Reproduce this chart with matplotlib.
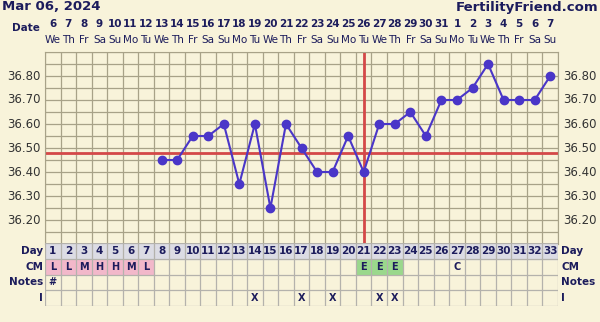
import numpy as np
import pandas as pd
import matplotlib
matplotlib.use('Agg')
import matplotlib.pyplot as plt
from matplotlib.transforms import blended_transform_factory

# cycle data, day 1 = Mar 06, 2024
days = list(range(1, 34))
dates = pd.date_range('2024-03-06', periods=33)
temps = [np.nan] * 7 + [36.45, 36.45, 36.55, 36.55, 36.60, 36.35, 36.60, 36.25,
                        36.60, 36.50, 36.40, 36.40, 36.55, 36.40, 36.60, 36.60,
                        36.65, 36.55, 36.70, 36.70, 36.75, 36.85, 36.70, 36.70,
                        36.70, 36.80]
coverline = 36.48
ovulation_day = 21
cm = {1: 'L', 2: 'L', 3: 'M', 4: 'H', 5: 'H', 6: 'M', 7: 'L',
      21: 'E', 22: 'E', 23: 'E', 27: 'C'}
notes = {1: '#'}
intercourse = [14, 17, 19, 22, 23]
ytick_vals = [36.20, 36.30, 36.40, 36.50, 36.60, 36.70, 36.80]

bg = '#f8f3da'
navy = '#1c1c5c'
gridc = '#a8a288'
blue = '#4a36c8'
red = '#d44848'

fig = plt.figure(figsize=(6, 3.22), dpi=100, facecolor=bg)
W, H = 600, 322
x0, x1 = 45, 558

# temperature chart
ax = fig.add_axes([x0 / W, 1 - 244 / H, (x1 - x0) / W, (244 - 52) / H])
ax.set_facecolor(bg)
ax.set_xlim(0.5, 33.5)
ax.set_ylim(36.10, 36.90)
for b in np.arange(0.5, 34, 1):
    ax.axvline(b, color=gridc, lw=0.9, zorder=1)
for t in np.arange(36.10, 36.91, 0.05):
    ax.axhline(t, color=gridc, lw=0.9, zorder=1)
ax.axhline(coverline, color=red, lw=2, zorder=2)
ax.axvline(ovulation_day, color=red, lw=2, zorder=2)
ax.plot(days, temps, color=blue, lw=1.5, marker='o', ms=6, zorder=3)
ax.set_xticks([])
ax.set_yticks([])
for s in ax.spines.values():
    s.set_color(gridc)

ylab = blended_transform_factory(fig.transFigure, ax.transData)
for v in ytick_vals:
    ax.text(41 / W, v, f'{v:.2f}', transform=ylab, ha='right', va='center',
            fontsize=8.5, color='#333333')
    ax.text(563 / W, v, f'{v:.2f}', transform=ylab, ha='left', va='center',
            fontsize=8.5, color='#333333')

# header
hdr = blended_transform_factory(ax.transData, fig.transFigure)
for d, dt in zip(days, dates):
    ax.text(d, 1 - 24 / H, str(dt.day), transform=hdr, ha='center', va='center',
            fontsize=7.5, fontweight='bold', color=navy)
    ax.text(d, 1 - 40 / H, dt.strftime('%a')[:2], transform=hdr, ha='center',
            va='center', fontsize=7.5, color=navy)
fig.text(26 / W, 1 - 28 / H, 'Date', ha='center', va='center', fontsize=7.5,
         fontweight='bold', color=navy)
fig.text(2 / W, 1 - 7 / H, 'Mar 06, 2024', ha='left', va='center', fontsize=9.5,
         fontweight='bold', color=navy)
fig.text(598 / W, 1 - 7 / H, 'FertilityFriend.com', ha='right', va='center',
         fontsize=9.5, fontweight='bold', color=navy)

# table
tb = fig.add_axes([x0 / W, 1 - 306 / H, (x1 - x0) / W, (306 - 243) / H])
tb.set_xlim(0.5, 33.5)
tb.set_ylim(4, 0)
tb.set_facecolor(bg)
tb.axhspan(0, 1, color='#dcdce4', zorder=0)
pink = [d for d in cm if cm[d] in 'LMH']
green = [d for d in cm if cm[d] == 'E']
tb.bar(pink, 1, bottom=1, width=1, color='#f2b8ca', zorder=0)
tb.bar(green, 1, bottom=1, width=1, color='#9ad88c', zorder=0)
for b in np.arange(0.5, 34, 1):
    tb.axvline(b, color='#b4b2ac', lw=0.9, zorder=1)
for r in range(5):
    tb.axhline(r, color='#b4b2ac', lw=0.9, zorder=1)
tb.set_xticks([])
tb.set_yticks([])
for s in tb.spines.values():
    s.set_visible(False)

for d in days:
    tb.text(d, 0.5, str(d), ha='center', va='center', fontsize=7.5,
            fontweight='bold', color=navy)
for d, c in cm.items():
    tb.text(d, 1.5, c, ha='center', va='center', fontsize=7,
            fontweight='bold', color=navy)
for d, n in notes.items():
    tb.text(d, 2.5, n, ha='center', va='center', fontsize=7,
            fontweight='bold', color=navy)
for d in intercourse:
    tb.text(d, 3.5, 'X', ha='center', va='center', fontsize=7,
            fontweight='bold', color=navy)

rl = blended_transform_factory(fig.transFigure, tb.transData)
for i, name in enumerate(['Day', 'CM', 'Notes', 'I']):
    tb.text(43 / W, i + 0.5, name, transform=rl, ha='right', va='center',
            fontsize=7.5, fontweight='bold', color=navy)
    tb.text(561 / W, i + 0.5, name, transform=rl, ha='left', va='center',
            fontsize=7.5, fontweight='bold', color=navy)

fig.savefig('out.png', dpi=100, facecolor=bg)
